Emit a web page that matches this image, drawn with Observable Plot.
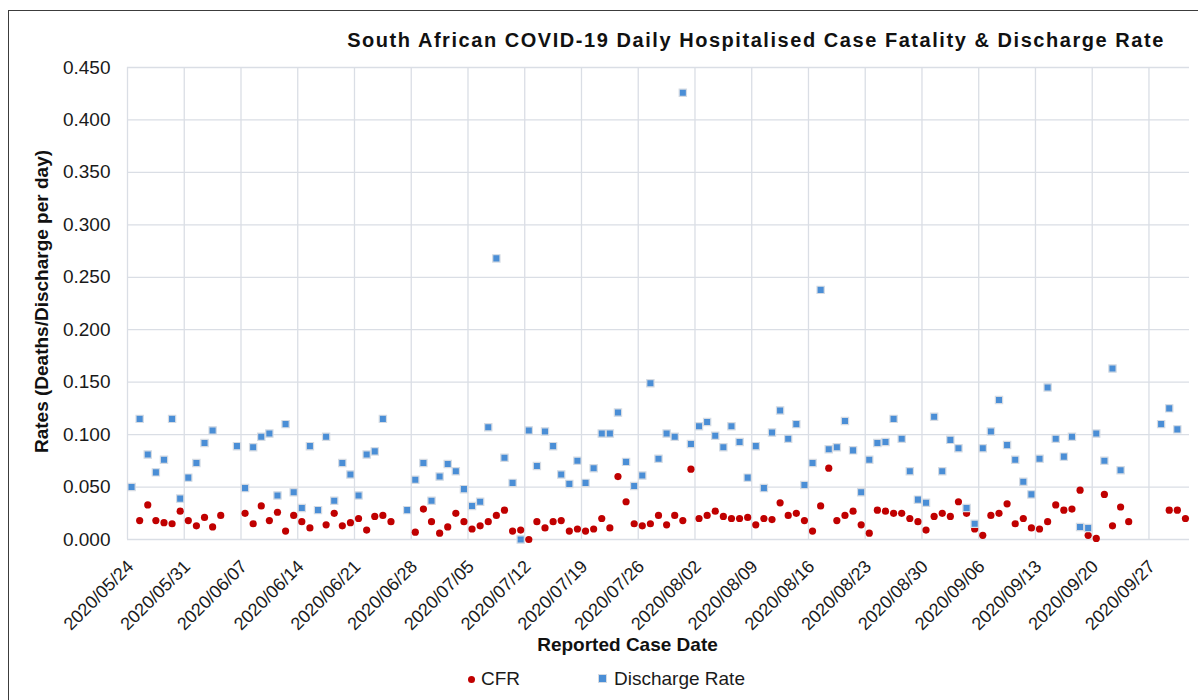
<!DOCTYPE html>
<html>
<head>
<meta charset="utf-8">
<script src="https://cdn.jsdelivr.net/npm/d3@7"></script>
<script src="https://cdn.jsdelivr.net/npm/@observablehq/plot@0.6"></script>
<style>
  html, body { margin: 0; padding: 0; background: #fff; }
  body { font-family: "Liberation Sans", Arial, sans-serif; color: #1a1a1a; }
  #wrap { position: relative; width: 1198px; height: 700px; overflow: hidden; background: #fff; }
  #frame { position: absolute; left: 8px; top: 10px; width: 1400px; height: 900px; border: 1.5px solid #3c3c3c; box-sizing: border-box; pointer-events: none; }
  #chart { position: absolute; left: 0; top: 0; }
  #title { position: absolute; left: 0; top: 29px; width: 1512px; text-align: center; font-weight: bold; font-size: 20px; letter-spacing: 1.55px; color: #111; white-space: nowrap; }
  #legend { position: absolute; top: 667px; left: 0; height: 24px; font-size: 19px; color: #1a1a1a; }
  .item { position: absolute; top: 0; white-space: nowrap; line-height: 24px; }
  .sw { position: absolute; }
</style>
</head>
<body>
<div id="wrap">
  <div id="chart"></div>
  <div id="title">South African COVID-19 Daily Hospitalised Case Fatality &amp; Discharge Rate</div>
  <div id="legend">
    <span class="sw" style="left:467.5px;top:8.5px;width:7px;height:7px;border-radius:50%;background:#c00000;"></span>
    <span class="item" style="left:481px;">CFR</span>
    <span class="sw" style="left:599px;top:8px;width:7px;height:7px;background:#4a8ed6;border:1px solid #d5dbe3;box-sizing:content-box;margin:-1px 0 0 -1px;"></span>
    <span class="item" style="left:614px;">Discharge Rate</span>
  </div>
  <div id="frame"></div>
</div>
<script>
// Reported case dates: consecutive days 2020/05/24 .. 2020/10/01
const firstDate = "2020-05-24";
const lastDate = "2020-10-01";

// Weekly tick labels on the x axis
const xTickLabels = ["2020/05/24","2020/05/31","2020/06/07","2020/06/14","2020/06/21","2020/06/28",
  "2020/07/05","2020/07/12","2020/07/19","2020/07/26","2020/08/02","2020/08/09","2020/08/16",
  "2020/08/23","2020/08/30","2020/09/06","2020/09/13","2020/09/20","2020/09/27"];

// Y axis ticks
const yTicks = [0, 0.05, 0.10, 0.15, 0.20, 0.25, 0.30, 0.35, 0.40, 0.45];

// CFR per day (null = no value reported)
const cfr = [
  null, 0.018, 0.033, 0.018, 0.016, 0.015, 0.027,
  0.018, 0.013, 0.021, 0.012, 0.023, null, null,
  0.025, 0.015, 0.032, 0.018, 0.026, 0.008, 0.023,
  0.017, 0.011, null, 0.014, 0.025, 0.013, 0.016,
  0.020, 0.009, 0.022, 0.023, 0.017, null, null,
  0.007, 0.029, 0.017, 0.006, 0.012, 0.025, 0.017,
  0.010, 0.013, 0.017, 0.023, 0.028, 0.008, 0.009,
  0.000, 0.017, 0.011, 0.017, 0.018, 0.008, 0.010,
  0.008, 0.010, 0.020, 0.011, 0.060, 0.036, 0.015,
  0.013, 0.015, 0.023, 0.014, 0.023, 0.018, 0.067,
  0.020, 0.023, 0.027, 0.022, 0.020, 0.020, 0.021,
  0.014, 0.020, 0.019, 0.035, 0.023, 0.025, 0.018,
  0.008, 0.032, 0.068, 0.018, 0.023, 0.027, 0.014,
  0.006, 0.028, 0.027, 0.025, 0.025, 0.020, 0.017,
  0.009, 0.022, 0.025, 0.022, 0.036, 0.025, 0.010,
  0.004, 0.023, 0.025, 0.034, 0.015, 0.020, 0.011,
  0.010, 0.017, 0.033, 0.028, 0.029, 0.047, 0.004,
  0.001, 0.043, 0.013, 0.031, 0.017, null, null,
  null, null, 0.028, 0.028, 0.020
];

// Discharge rate per day (null = no value reported)
const discharge = [
  0.050, 0.115, 0.081, 0.064, 0.076, 0.115, 0.039,
  0.059, 0.073, 0.092, 0.104, null, null, 0.089,
  0.049, 0.088, 0.098, 0.101, 0.042, 0.110, 0.045,
  0.030, 0.089, 0.028, 0.098, 0.037, 0.073, 0.062,
  0.042, 0.081, 0.084, 0.115, null, null, 0.028,
  0.057, 0.073, 0.037, 0.060, 0.072, 0.065, 0.048,
  0.032, 0.036, 0.107, 0.268, 0.078, 0.054, 0.000,
  0.104, 0.070, 0.103, 0.089, 0.062, 0.053, 0.075,
  0.054, 0.068, 0.101, 0.101, 0.121, 0.074, 0.051,
  0.061, 0.149, 0.077, 0.101, 0.098, 0.426, 0.091,
  0.108, 0.112, 0.099, 0.088, 0.108, 0.093, 0.059,
  0.089, 0.049, 0.102, 0.123, 0.096, 0.110, 0.052,
  0.073, 0.238, 0.086, 0.088, 0.113, 0.085, 0.045,
  0.076, 0.092, 0.093, 0.115, 0.096, 0.065, 0.038,
  0.035, 0.117, 0.065, 0.095, 0.087, 0.030, 0.015,
  0.087, 0.103, 0.133, 0.090, 0.076, 0.055, 0.043,
  0.077, 0.145, 0.096, 0.079, 0.098, 0.012, 0.011,
  0.101, 0.075, 0.163, 0.066, null, null, null,
  null, 0.110, 0.125, 0.105, null
];

const parse = d3.utcParse("%Y-%m-%d");
const dates = d3.utcDay.range(parse(firstDate), d3.utcDay.offset(parse(lastDate), 1));
const half = 12 * 3600 * 1000;
const cfrData = dates.map((date, i) => ({date, v: cfr[i]})).filter(d => d.v != null);
const disData = dates.map((date, i) => ({date, v: discharge[i]})).filter(d => d.v != null);
const tickDates = xTickLabels.map(s => d3.utcParse("%Y/%m/%d")(s));
// category boundaries (gridlines sit between days, once a week)
const gridDates = tickDates.map(d => new Date(+d - half));

const grid = "#dadee5";
const chart = Plot.plot({
  width: 1198,
  height: 700,
  marginLeft: 127,
  marginRight: 9,
  marginTop: 67,
  marginBottom: 161,
  style: { fontFamily: "'Liberation Sans', Arial, sans-serif", fontSize: "19px", color: "#1a1a1a", background: "transparent" },
  x: { type: "utc", domain: [new Date(+dates[0] - half), new Date(+dates[dates.length - 1] + half)] },
  y: { domain: [0, 0.45] },
  marks: [
    Plot.ruleY(yTicks, { stroke: grid, strokeWidth: 1.3 }),
    Plot.ruleX(gridDates, { stroke: grid, strokeWidth: 1.3 }),
    Plot.axisY({ ticks: yTicks, tickFormat: d3.format(".3f"), tickSize: 0, tickPadding: 17, label: null, fontSize: 19 }),
    Plot.axisX({ ticks: tickDates, tickFormat: d3.utcFormat("%Y/%m/%d"), tickRotate: -45, tickSize: 0, tickPadding: 24, dx: -1, label: null, fontSize: 18 }),
    Plot.dot(cfrData, { x: "date", y: "v", r: 3.6, fill: "#c00000", symbol: "circle" }),
    Plot.dot(disData, { x: "date", y: "v", r: 4.1, fill: "#4a8ed6", stroke: "#d5dbe3", strokeWidth: 1.2, symbol: "square" }),
    Plot.text(["Rates (Deaths/Discharge per day)"], { frameAnchor: "left", dx: -86, dy: -2, rotate: -90, textAnchor: "middle", fontWeight: "bold", fontSize: 19, fill: "#111" }),
    Plot.text(["Reported Case Date"], { frameAnchor: "bottom", dx: -31, dy: 111, fontWeight: "bold", fontSize: 19, fill: "#111" })
  ]
});
document.getElementById("chart").appendChild(chart);
</script>
</body>
</html>
